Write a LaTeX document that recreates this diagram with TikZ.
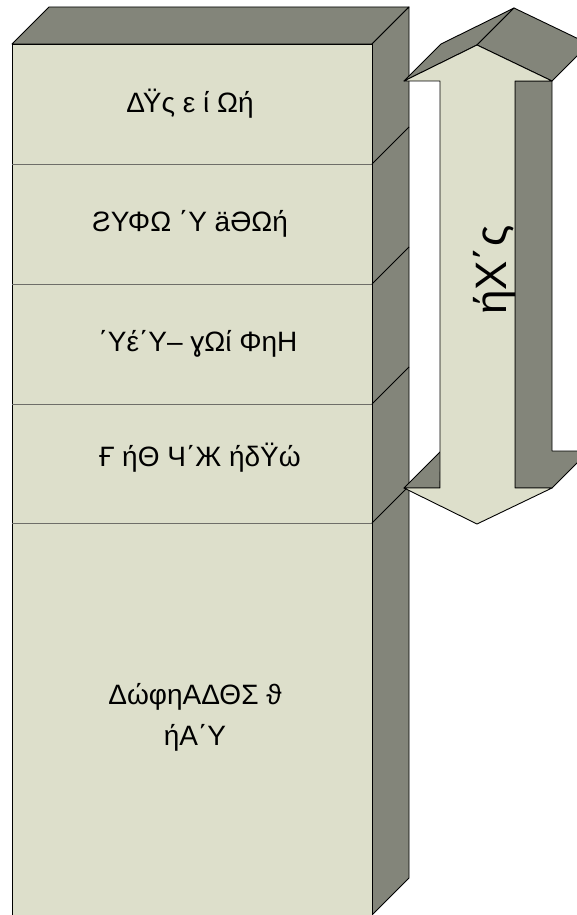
\documentclass[tikz,border=0pt]{standalone}
\usepackage{fontspec}
\setmainfont{Liberation Sans}
\definecolor{facelight}{RGB}{221,223,203}
\definecolor{facedark}{RGB}{131,133,122}
\definecolor{divgray}{RGB}{110,110,105}
\begin{document}
\begin{tikzpicture}[x=1pt,y=-1pt,
  darkface/.style={fill=facedark,draw=black,line width=0.9pt,line join=round},
  lightface/.style={fill=facelight,draw=black,line width=0.9pt,line join=round},
  lbl/.style={font=\fontsize{28}{41}\selectfont,align=center,text=black}]
\useasboundingbox (0,0) rectangle (577,915);
\clip (0,0) rectangle (577,915);
% column
\draw[darkface] (12,44) -- (49,7) -- (409,7) -- (372,44) -- cycle;
\draw[darkface] (372,44) -- (409,7) -- (409,878) -- (372,915) -- cycle;
\draw[lightface] (12,44) rectangle (372,915);
\foreach \yy in {164,284,404,523}{
  \draw[divgray,line width=0.9pt] (12,\yy) -- (372,\yy);
  \draw[black,line width=0.9pt] (372,\yy) -- (409,\yy-37);
}
% double arrow
\draw[darkface] (404,81) -- (477,45) -- (514,8) -- (441,44) -- cycle;
\draw[darkface] (477,45) -- (552,81) -- (589,44) -- (514,8) -- cycle;
\draw[darkface] (515,81) -- (552,81) -- (552,451) -- (589,451) -- (552,488) -- (515,488) -- cycle;
\draw[darkface] (404,488) -- (441,451) -- (440,488) -- cycle;
\draw[lightface] (404,81) -- (477,45) -- (552,81) -- (515,81) -- (515,488) -- (552,488)
  -- (477,524) -- (404,488) -- (440,488) -- (440,81) -- cycle;
% labels
\node[lbl] (t1) at (190,104) {ΔΫς ε ί Ωή};
\node[lbl] (t2) at (190,224) {ƧΥΦΩ ΄Υ äƏΩή};
\node[lbl] (t3) at (198,344) {΄Υέ΄Υ– ɣΩί ΦηΗ};
\node[lbl] (t4) at (200,458) {Ғ ήΘ Ч΄Ж ήδΫώ};
\node[lbl] (t5) at (195,717) {ΔώφηΑΔΘΣ ϑ\\ήΑ΄Υ};
\node[lbl,rotate=90,font=\fontsize{44}{50}\selectfont] (t6) at (494,270) {ήΧ΄ς};
\end{tikzpicture}
\end{document}
